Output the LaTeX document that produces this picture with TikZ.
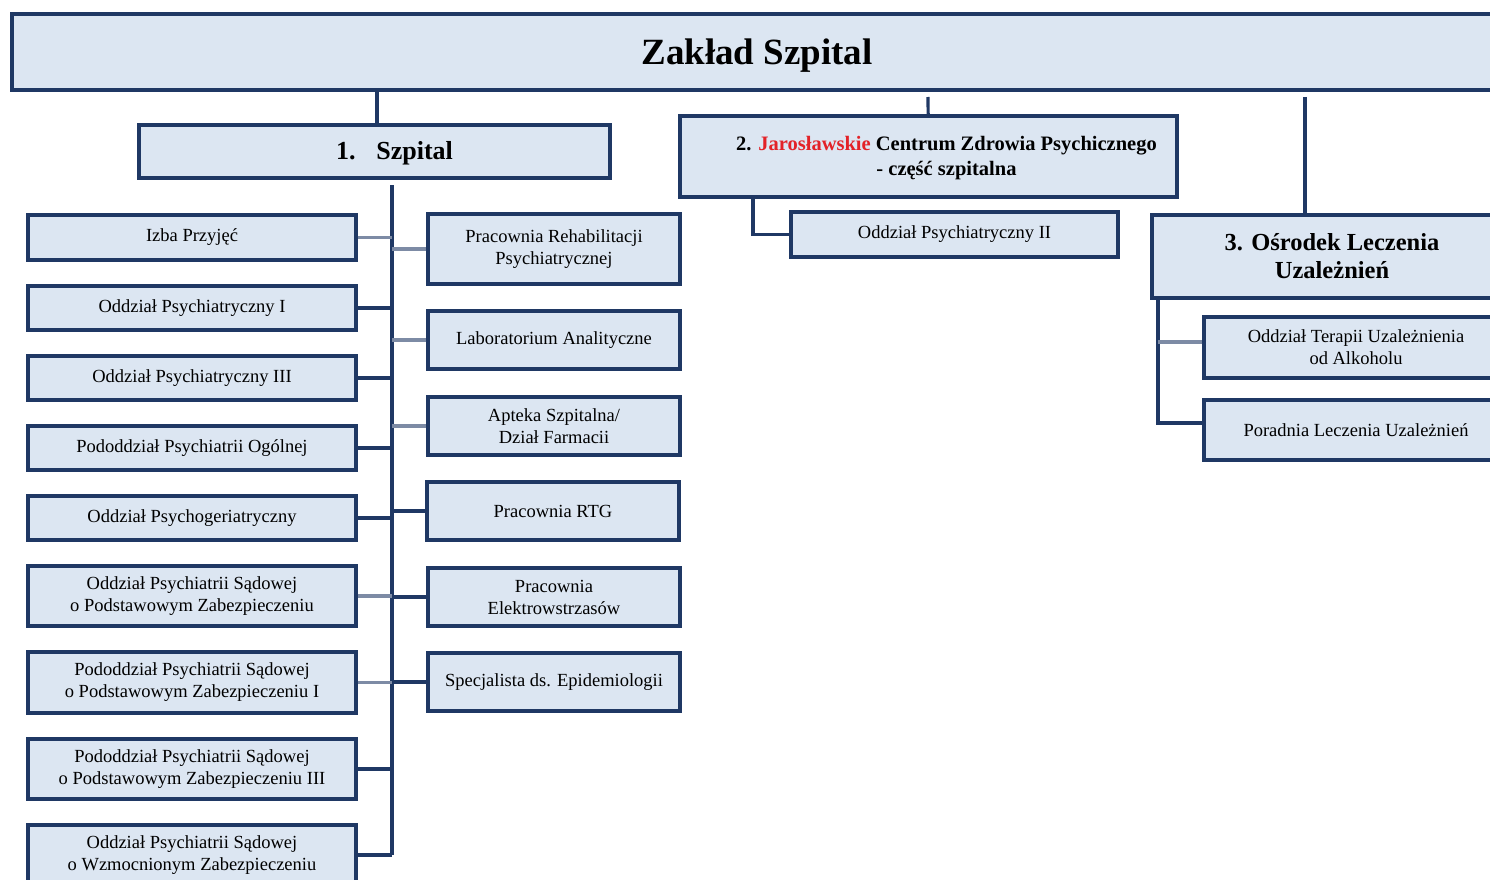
\documentclass[tikz,border=0pt]{standalone}
\usepackage{fontspec}
\setmainfont{Liberation Serif}

\definecolor{boxfill}{HTML}{DCE6F2}
\definecolor{navy}{HTML}{1F3864}
\definecolor{greyline}{HTML}{7D8BA5}
\definecolor{jred}{HTML}{E32228}

\newcommand{\fsmall}{\fontsize{18.5}{22}\selectfont}
\newcommand{\fmain}{\fontsize{37}{40}\selectfont\bfseries}
\newcommand{\fszp}{\fontsize{26}{28}\selectfont\bfseries}
\newcommand{\fjcz}{\fontsize{20.5}{25}\selectfont\bfseries}
\newcommand{\fosr}{\fontsize{24.5}{28}\selectfont\bfseries}

\begin{document}
\begin{tikzpicture}[x=1pt,y=-1pt,
    box/.style={draw=navy,line width=3.2pt,fill=boxfill,align=center,inner sep=2pt,font=\fsmall},
    link/.style={draw=navy,line width=3.2pt},
    linkl/.style={draw=greyline,line width=3.2pt}]
    \useasboundingbox (0,0) rectangle (1490,880);
    \clip (0,0) rectangle (1490,880);

    \node[box,minimum width=1490,minimum height=76,
          label={[font=\fmain,yshift=-4]center:Zakład Szpital}] (zs) at (757,52) {};

    % 1. Szpital
    \node[box,minimum width=471,minimum height=53,
          label={[font=\fszp,xshift=20,yshift=-2]center:{1.\hspace{0.8em}Szpital}}] (szp) at (374.5,151.5) {};
    \node[box,minimum width=328,minimum height=45] (izba) at (192,237.5) {Izba Przyjęć};
    \node[box,minimum width=328,minimum height=44] (op1) at (192,308) {Oddział Psychiatryczny I};
    \node[box,minimum width=328,minimum height=44] (op3) at (192,378) {Oddział Psychiatryczny III};
    \node[box,minimum width=328,minimum height=44] (pog) at (192,448) {Pododdział Psychiatrii Ogólnej};
    \node[box,minimum width=328,minimum height=44] (pger) at (192,518) {Oddział Psychogeriatryczny};
    \node[box,minimum width=328,minimum height=60] (sad) at (192,596) {Oddział Psychiatrii Sądowej\\o Podstawowym Zabezpieczeniu};
    \node[box,minimum width=328,minimum height=61] (sad1) at (192,682.5) {Pododdział Psychiatrii Sądowej\\o Podstawowym Zabezpieczeniu I};
    \node[box,minimum width=328,minimum height=60] (sad3) at (192,769) {Pododdział Psychiatrii Sądowej\\o Podstawowym Zabezpieczeniu III};
    \node[box,minimum width=328,minimum height=60] (wzm) at (192,855) {Oddział Psychiatrii Sądowej\\o Wzmocnionym Zabezpieczeniu};

    \node[box,minimum width=252,minimum height=70] (reh) at (554,249) {Pracownia Rehabilitacji\\Psychiatrycznej};
    \node[box,minimum width=252,minimum height=58] (lab) at (554,340) {Laboratorium Analityczne};
    \node[box,minimum width=252,minimum height=58] (apt) at (554,426) {Apteka Szpitalna/\\Dział Farmacii};
    \node[box,minimum width=252,minimum height=58] (rtg) at (553,511) {Pracownia RTG};
    \node[box,minimum width=252,minimum height=58] (ele) at (554,597) {Pracownia\\Elektrowstrzasów};
    \node[box,minimum width=252,minimum height=58] (epi) at (554,682) {Specjalista ds. Epidemiologii};

    % 2. JCZP
    \node[box,minimum width=497,minimum height=81,
          label={[font=\fjcz,align=center,xshift=18,yshift=-2]center:{2. \textcolor{jred}{Jarosławskie} Centrum Zdrowia Psychicznego\\- część szpitalna}}] (jcz) at (928.5,156.5) {};
    \node[box,minimum width=327,minimum height=45] (ops2) at (954.5,234.5) {Oddział Psychiatryczny II};

    % 3. Osrodek
    \node[box,minimum width=360,minimum height=83,font=\fosr] (osr) at (1332,256.5) {3. Ośrodek Leczenia\\Uzależnień};
    \node[box,minimum width=304,minimum height=61] (ter) at (1356,347.5) {Oddział Terapii Uzależnienia\\od Alkoholu};
    \node[box,minimum width=304,minimum height=60] (por) at (1356,430) {Poradnia Leczenia Uzależnień};

    \coordinate (t1) at (377,90);
    \coordinate (t2) at (928,97);
    \coordinate (t3) at (1305,97);
    \coordinate (sp1) at (392,185);
    \coordinate (sp2) at (392,855);
    \coordinate (b2) at (753,197);
    \coordinate (b3) at (1158,298);

    \draw[link] (t1) -- (t1 |- szp.north);
    \draw[link] (jcz) -- (t2);
    \draw[link] (t3) -- (t3 |- osr.north);

    \draw[link] (sp1) -- (sp2);
    \draw[linkl] (izba) -- (izba -| sp1);
    \draw[link] (op1) -- (op1 -| sp1);
    \draw[link] (op3) -- (op3 -| sp1);
    \draw[link] (pog) -- (pog -| sp1);
    \draw[link] (pger) -- (pger -| sp1);
    \draw[linkl] (sad) -- (sad -| sp1);
    \draw[linkl] (sad1) -- (sad1 -| sp1);
    \draw[link] (sad3) -- (sad3 -| sp1);
    \draw[link] (wzm) -- (wzm -| sp1);
    \draw[linkl] (reh) -- (reh -| sp1);
    \draw[linkl] (lab) -- (lab -| sp1);
    \draw[linkl] (apt) -- (apt -| sp1);
    \draw[link] (rtg) -- (rtg -| sp1);
    \draw[link] (ele) -- (ele -| sp1);
    \draw[link] (epi) -- (epi -| sp1);

    \draw[link] (b2) |- (ops2.west);
    \draw[link] (b3) |- ([yshift=7]por.west);
    \draw[linkl] ([yshift=5.5]ter.west) -- ([yshift=5.5]ter.west -| b3);
\end{tikzpicture}
\end{document}
